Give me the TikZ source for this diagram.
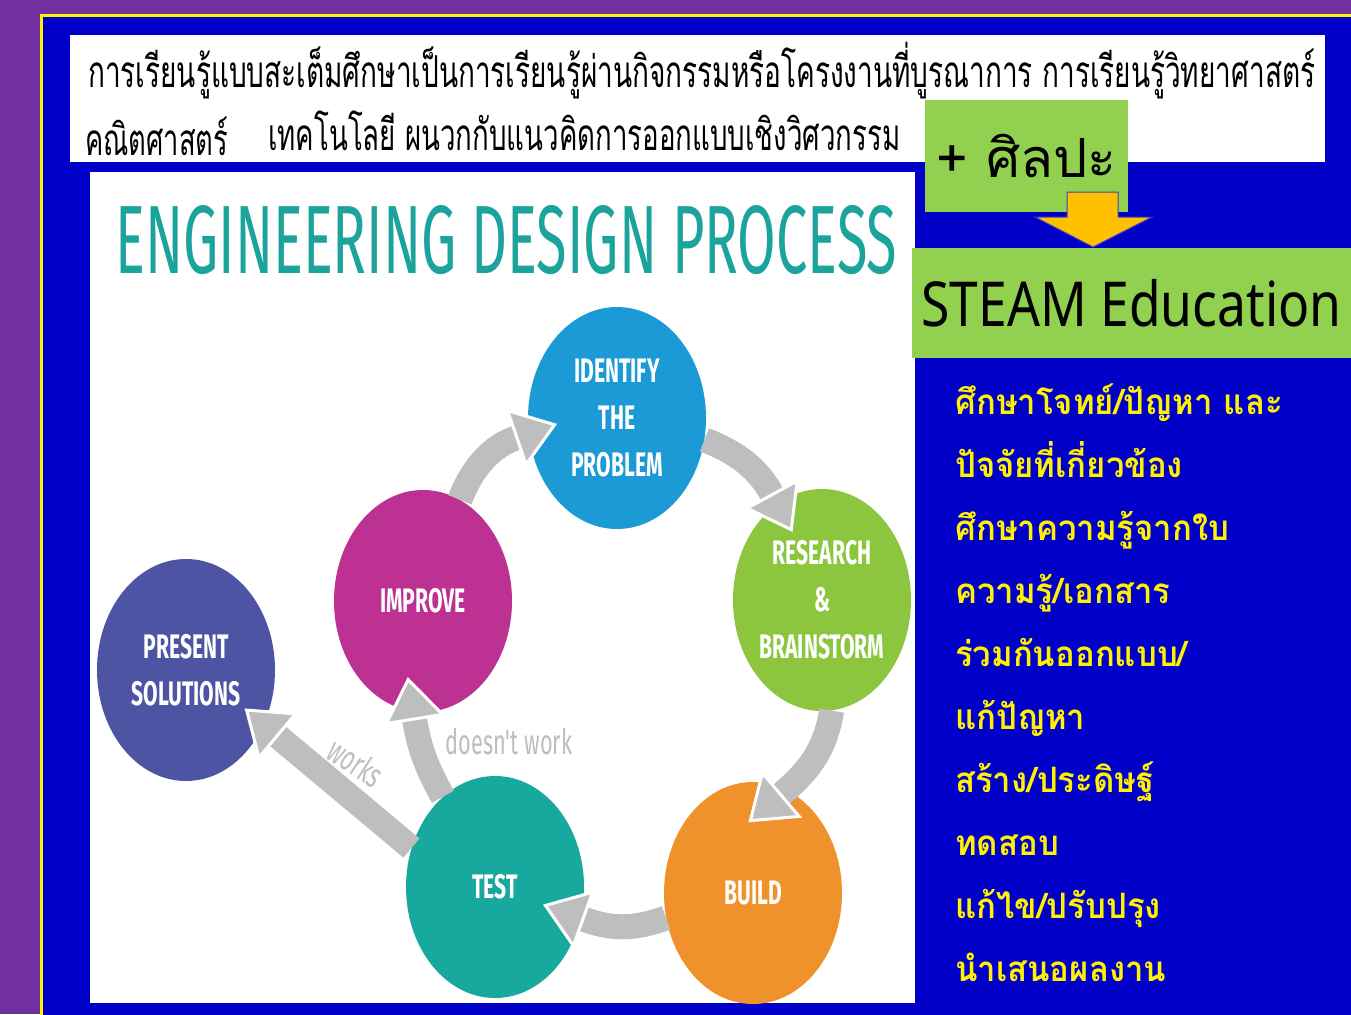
\documentclass[tikz,border=0pt]{standalone}
\usepackage{fontspec}
\usepackage{graphicx}
\usetikzlibrary{shapes.geometric,arrows.meta}
\setmainfont{Noto Sans}
\newfontfamily\thaifont[Script=Thai]{Loma}
\newfontfamily\thainarrow[Script=Thai,FakeStretch=0.94]{Loma}
\newfontfamily\edpfont{Fira Sans}
\definecolor{slidepurple}{HTML}{7030A0}
\definecolor{slideblue}{HTML}{0000C8}
\definecolor{boxgreen}{HTML}{92D050}
\definecolor{arroworange}{HTML}{FFC000}
\definecolor{titleteal}{HTML}{1BA39C}
\definecolor{arrowgray}{HTML}{BEBEBE}
\definecolor{idblue}{HTML}{1B9AD6}
\definecolor{rbgreen}{HTML}{8CC63F}
\definecolor{buildorange}{HTML}{F0922B}
\definecolor{testteal}{HTML}{17A89E}
\definecolor{impmagenta}{HTML}{BC3191}
\definecolor{presindigo}{HTML}{4E54A4}
\newcommand{\cond}[1]{\scalebox{0.62}[1]{#1}}
\newcommand{\fitw}[2]{\resizebox{#1}{\height}{#2}}
\begin{document}
\begin{tikzpicture}[x=1pt,y=-1pt,
    stage/.style={ellipse,minimum width=178pt,minimum height=222pt,inner sep=0pt,
      text=white,align=center,font=\edpfont\bfseries\fontsize{34}{47}\selectfont},
    cyc/.style={line width=25pt,draw=arrowgray,
      -{Triangle[width=62pt,length=44pt,fill=arrowgray,color=white,line width=3pt]}},
    thailine/.style={anchor=base west,inner sep=0pt,font=\thaifont\fontsize{44}{44}\selectfont},
    cyclabel/.style={text=arrowgray,font=\edpfont\fontsize{35}{35}\selectfont}]
  \useasboundingbox (0,0) rectangle (1351,1014);

  % slide
  \fill[slidepurple] (0,0) rectangle (1351,1014);
  \filldraw[draw=yellow,line width=3pt,fill=slideblue] (41,16) rectangle (1360,1020);

  % heading box
  \fill[white] (70,35) rectangle (1325,162);
  \node[thailine] (line1) at (88,88) {\fitw{1227pt}{การเรียนรู้แบบสะเต็มศึกษาเป็นการเรียนรู้ผ่านกิจกรรมหรือโครงงานที่บูรณาการ การเรียนรู้วิทยาศาสตร์}};
  \node[thailine] (line2a) at (85,155) {\fitw{143pt}{คณิตศาสตร์}};
  \node[thailine] (line2b) at (268,150) {\fitw{632pt}{เทคโนโลยี ผนวกกับแนวคิดการออกแบบเชิงวิศวกรรม}};

  % picture panel
  \fill[white] (90,172) rectangle (915,1003);
  \node[anchor=base west,inner sep=0pt,text=titleteal] (title) at (115,273)
    {\resizebox{782pt}{68pt}{\edpfont ENGINEERING DESIGN PROCESS}};

  % stages
  \node[stage,fill=idblue] (identify) at (617,418) {\cond{IDENTIFY}\\\cond{THE}\\\cond{PROBLEM}};
  \node[stage,fill=rbgreen] (research) at (822,600) {\cond{RESEARCH}\\\cond{\&}\\\cond{BRAINSTORM}};
  \node[stage,fill=buildorange] (build) at (753,893) {\cond{BUILD}};
  \node[stage,fill=testteal] (test) at (495,887) {\cond{TEST}};
  \node[stage,fill=impmagenta] (improve) at (423,601) {\cond{IMPROVE}};
  \node[stage,fill=presindigo] (present) at (186,670) {\cond{PRESENT}\\\cond{SOLUTIONS}};

  % cycle
  \draw[cyc,shorten >=-30pt] (improve.70) to[bend left=25] (identify.190);
  \draw[cyc,shorten >=-32pt] (identify.-14) to[bend left=20] (research.115);
  \draw[cyc,shorten >=-50pt] (research.-85) to[bend left=20] (build.72);
  \draw[cyc,shorten >=-40pt] (build.196) to[bend left=20] (test.-20);
  \draw[cyc,shorten >=-35pt] (test.120) to[bend left=10] (improve.-95);
  \draw[cyc,shorten >=-25pt] (test.155) -- (present.-35);
  \node[cyclabel] (nowork) at (509,742) {\cond{doesn't work}};
  \node[cyclabel,rotate=-33] (works) at (356,762) {\cond{works}};

  % art box and arrow
  \node[fill=boxgreen,minimum width=203pt,minimum height=112pt,inner sep=0pt,
    font=\thaifont\fontsize{54}{54}\selectfont] (arts) at (1026.5,156) {\raisebox{-9pt}{+ ศิลปะ}};
  \filldraw[fill=arroworange,draw=blue!50!gray,line width=1pt]
    (1067,192) -- (1118,192) -- (1118,217) -- (1152,217) -- (1093,247) -- (1035,217) -- (1067,217) -- cycle;
  \node[fill=boxgreen,minimum width=439pt,minimum height=110pt,inner sep=0pt,
    font=\fontsize{62}{62}\selectfont] (steam) at (1131.5,303) {\raisebox{-4pt}{\fitw{420pt}{STEAM Education}}};

  % steps
  \node[anchor=north west,inner sep=0pt,text=yellow,align=left,
    font=\thainarrow\bfseries\fontsize{35}{63}\selectfont] (steps) at (955,384)
    {ศึกษาโจทย์/ปัญหา และ\\ปัจจัยที่เกี่ยวข้อง\\ศึกษาความรู้จากใบ\\ความรู้/เอกสาร\\ร่วมกันออกแบบ/\\แก้ปัญหา\\สร้าง/ประดิษฐ์\\ทดสอบ\\แก้ไข/ปรับปรุง\\นำเสนอผลงาน};
\end{tikzpicture}
\end{document}
